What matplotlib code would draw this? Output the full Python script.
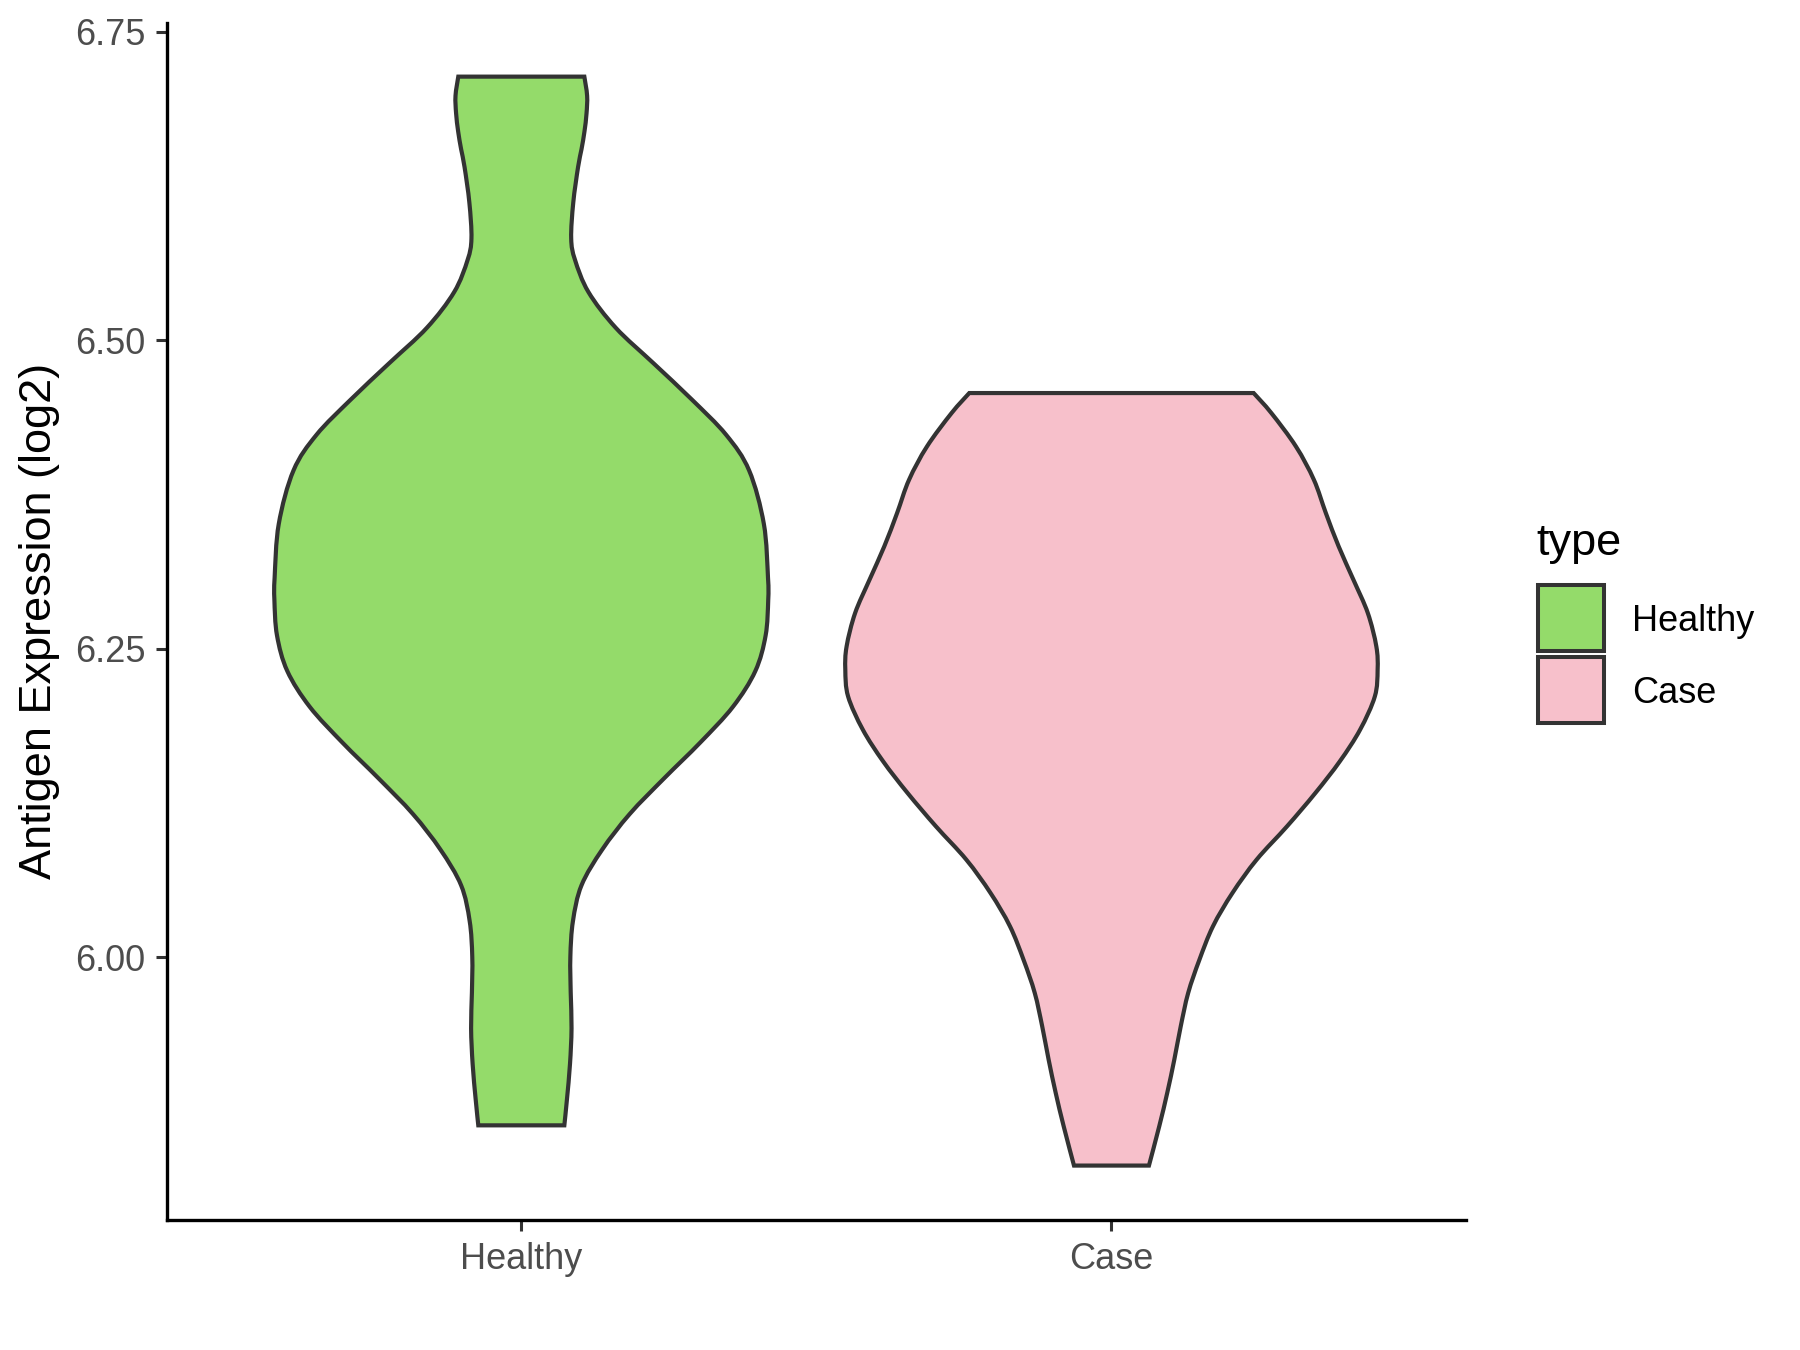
import matplotlib
matplotlib.use("Agg")
import matplotlib.pyplot as plt
import numpy as np
from matplotlib.path import Path
from matplotlib.patches import PathPatch, Rectangle

plt.rcParams['font.family'] = ['Liberation Sans', 'DejaVu Sans']

# ---- data ----
categories = ["Healthy", "Case"]
colors = ["#94DB6A", "#F7C0CB"]

# violin outline: expression value (log2) and half-width (x units)
healthy_y = [5.8637, 5.8846, 5.9135, 5.9424, 5.9713, 6.0003, 6.0292, 6.0582, 6.0871, 6.1160,
             6.1449, 6.1739, 6.2029, 6.2318, 6.2607, 6.2896, 6.3075, 6.3510, 6.3944, 6.4233,
             6.4520, 6.4810, 6.5100, 6.5390, 6.5650, 6.5824, 6.6113, 6.6403, 6.6547, 6.6690,
             6.6837, 6.6980, 6.7135]
healthy_w = [0.0729, 0.0773, 0.0825, 0.0851, 0.0837, 0.0831, 0.0875, 0.1020, 0.1370, 0.1837,
             0.2420, 0.3032, 0.3586, 0.3965, 0.4140, 0.4184, 0.4180, 0.4110, 0.3860, 0.3470,
             0.2886, 0.2245, 0.1600, 0.1137, 0.0910, 0.0845, 0.0880, 0.0962, 0.1020, 0.1070,
             0.1105, 0.1115, 0.1068]

case_y = [5.8311, 5.8630, 5.8900, 5.9170, 5.9440, 5.9710, 5.9976, 6.0250, 6.0520, 6.0790,
          6.1060, 6.1330, 6.1587, 6.1843, 6.2113, 6.2329, 6.2518, 6.2788, 6.3058, 6.3328,
          6.3598, 6.3868, 6.4138, 6.4409, 6.4571]
case_w = [0.0635, 0.0810, 0.0945, 0.1065, 0.1174, 0.1300, 0.1488, 0.1720, 0.2050, 0.2460,
          0.2975, 0.3455, 0.3870, 0.4213, 0.4463, 0.4510, 0.4488, 0.4344, 0.4100, 0.3850,
          0.3633, 0.3430, 0.3126, 0.2709, 0.2409]

y_ticks = [6.00, 6.25, 6.50, 6.75]
y_ticklabels = ["6.00", "6.25", "6.50", "6.75"]
y_label = "Antigen Expression (log2)"
legend_title = "type"

profiles = [(healthy_y, healthy_w), (case_y, case_w)]


def smooth_side(pts):
    """Catmull-Rom through the points, expressed as cubic Bezier segments."""
    pts = np.asarray(pts, float)
    n = len(pts)
    verts, codes = [], []
    for i in range(n - 1):
        p0 = pts[i - 1] if i > 0 else pts[i]
        p1 = pts[i]
        p2 = pts[i + 1]
        p3 = pts[i + 2] if i + 2 < n else pts[i + 1]
        c1 = p1 + (p2 - p0) / 6.0
        c2 = p2 - (p3 - p1) / 6.0
        verts += [tuple(c1), tuple(c2), tuple(p2)]
        codes += [Path.CURVE4] * 3
    return verts, codes


fig = plt.figure(figsize=(9, 6.75), dpi=200)
ax = fig.add_axes([0.0929, 0.0963, 0.8142 - 0.0929, 0.983 - 0.0963])

for i, ((ys, ws), col) in enumerate(zip(profiles, colors)):
    cx = i + 1
    ys = np.asarray(ys)
    ws = np.asarray(ws)
    right = np.column_stack([cx + ws, ys])
    left = np.column_stack([cx - ws, ys])[::-1]
    verts = [tuple(right[0])]
    codes = [Path.MOVETO]
    v, c = smooth_side(right)
    verts += v
    codes += c
    verts.append(tuple(left[0]))
    codes.append(Path.LINETO)
    v, c = smooth_side(left)
    verts += v
    codes += c
    verts.append(tuple(right[0]))
    codes.append(Path.CLOSEPOLY)
    patch = PathPatch(Path(verts, codes), facecolor=col, edgecolor="#333333",
                      linewidth=1.5, joinstyle="miter", zorder=2)
    ax.add_patch(patch)

ax.set_xlim(0.4, 2.6)
ax.set_ylim(5.787, 6.757)
ax.set_xticks([1, 2])
ax.set_xticklabels(categories)
ax.set_yticks(y_ticks)
ax.set_yticklabels(y_ticklabels)

for s in ["top", "right"]:
    ax.spines[s].set_visible(False)
for s in ["left", "bottom"]:
    ax.spines[s].set_linewidth(1.2)
    ax.spines[s].set_color("black")

ax.tick_params(axis="both", length=3.85, width=1.1, color="#333333",
               labelsize=13, labelcolor="#4D4D4D", pad=4)

fig.text(40 / 1800, 1 - 621 / 1350, y_label, rotation=90, ha="center", va="center",
         fontsize=16.25, color="black")

# legend
fig.text(1536.7 / 1800, 1 - 555 / 1350, legend_title, ha="left", va="baseline",
         fontsize=16.25, color="black")
key_tops = [584.7, 657.0]
baselines = [631.0, 702.7]
for lab, col, kt, bl in zip(categories, colors, key_tops, baselines):
    fig.add_artist(Rectangle((1538 / 1800, 1 - (kt + 66) / 1350), 66 / 1800, 66 / 1350,
                             transform=fig.transFigure, facecolor=col, edgecolor="#333333",
                             linewidth=1.45))
    fig.text(1631.7 / 1800, 1 - bl / 1350, lab, ha="left", va="baseline",
             fontsize=13, color="black")

fig.savefig("out.png", dpi=200, facecolor="white")
